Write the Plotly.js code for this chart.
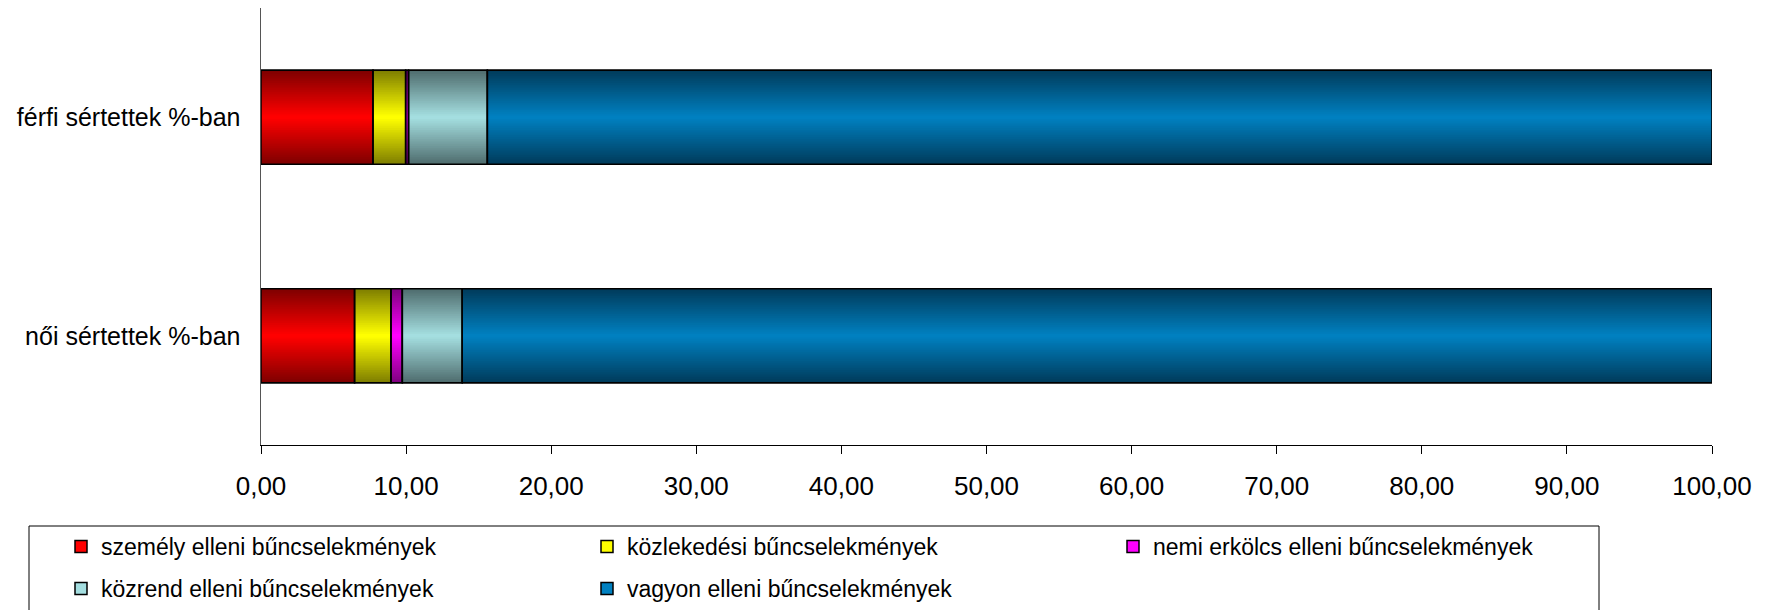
<!DOCTYPE html>
<html>
<head>
<meta charset="utf-8">
<script src="https://cdn.plot.ly/plotly-3.0.1.min.js"></script>
<style>html,body{margin:0;padding:0;background:#fff;}#chart{width:1765px;height:610px;}</style>
</head>
<body>
<div id="chart"></div>
<script>
// ---- data ----
const categories = ['női sértettek %-ban', 'férfi sértettek %-ban'];
const seriesNames = [
  'személy elleni bűncselekmények',
  'közlekedési bűncselekmények',
  'nemi erkölcs elleni bűncselekmények',
  'közrend elleni bűncselekmények',
  'vagyon elleni bűncselekmények'
];
// values per category [női, férfi]
const szemely = [6.45, 7.72];
const kozlekedesi = [2.51, 2.25];
const nemi = [0.78, 0.20];
const kozrend = [4.13, 5.43];
const vagyon = [86.13, 84.40];
const xTicks = [0, 10, 20, 30, 40, 50, 60, 70, 80, 90, 100];

// ---- styles ----
const edgeColors = [[128,0,0],[128,128,0],[128,0,128],[80,110,111],[0,60,92]];
const centerColors = [[255,0,0],[255,255,0],[255,0,255],[164,222,224],[0,128,192]];
const legendRow = ['legend', 'legend', 'legend', 'legend2', 'legend2'];
const barWidth = 0.43;
const steps = 26;

const seriesValues = [szemely, kozlekedesi, nemi, kozrend, vagyon];
const rgb = c => 'rgb(' + c.map(v => Math.round(v)).join(',') + ')';
const lerp = (a, b, t) => a.map((v, i) => v + (b[i] - v) * t);

// cumulative bases
const bases = [];
let run = categories.map(() => 0);
seriesValues.forEach(vals => {
  bases.push(run.slice());
  run = run.map((r, i) => r + vals[i]);
});

const traces = [];
seriesValues.forEach((vals, s) => {
  const common = {
    type: 'bar', orientation: 'h', y: categories, x: vals, base: bases[s],
    hoverinfo: 'skip', legend: legendRow[s]
  };
  // legend trace
  traces.push(Object.assign({}, common, {
    name: seriesNames[s], width: barWidth, showlegend: true,
    marker: {color: rgb(centerColors[s]), line: {color: '#000', width: 1.5}}
  }));
  // gradient layers
  for (let k = 0; k < steps; k++) {
    const t = k / (steps - 1);
    traces.push(Object.assign({}, common, {
      name: seriesNames[s], showlegend: false,
      width: barWidth * (1 - k / steps),
      marker: {color: rgb(lerp(edgeColors[s], centerColors[s], t)), line: {width: 0}}
    }));
  }
});
// outlines on top
seriesValues.forEach((vals, s) => {
  traces.push({
    type: 'bar', orientation: 'h', y: categories, x: vals, base: bases[s],
    hoverinfo: 'skip', name: seriesNames[s], showlegend: false, width: barWidth,
    marker: {color: 'rgba(0,0,0,0)', line: {color: '#000', width: 1.5}}
  });
});

const fontFam = 'Liberation Sans, Arial, Helvetica, sans-serif';
const plotL = 261, plotT = 8, plotW = 1451, plotH = 437;
const legendCommon = {
  orientation: 'h', xref: 'paper', yref: 'paper',
  x: (61 - plotL) / plotW, xanchor: 'left', yanchor: 'top',
  borderwidth: 0, bgcolor: 'rgba(0,0,0,0)',
  entrywidth: 481, entrywidthmode: 'pixels',
  font: {size: 23, family: fontFam, color: '#000'}, traceorder: 'normal'
};
const layout = {
  width: 1765, height: 610,
  margin: {l: plotL, r: 1765 - plotL - plotW, t: plotT, b: 610 - plotT - plotH, pad: 0, autoexpand: false},
  paper_bgcolor: '#fff', plot_bgcolor: '#fff',
  barmode: 'overlay',
  separators: ', ',
  font: {family: fontFam, size: 23, color: '#000'},
  xaxis: {
    range: [0, 100], tickvals: xTicks, tickformat: '.2f',
    showgrid: false, zeroline: false,
    showline: true, linecolor: '#000', linewidth: 1,
    ticks: 'outside', ticklen: 8, tickcolor: '#000', tickwidth: 1,
    ticklabelstandoff: 10,
    tickfont: {size: 26}, fixedrange: true
  },
  yaxis: {
    type: 'category', categoryorder: 'array', categoryarray: categories,
    range: [-0.5, 1.5], showgrid: false, zeroline: false,
    showline: true, linecolor: '#555', linewidth: 1.5,
    ticks: '', ticklabelstandoff: 14, tickfont: {size: 25}, fixedrange: true
  },
  showlegend: true,
  legend: Object.assign({}, legendCommon, {y: (plotT + plotH - 525) / plotH}),
  legend2: Object.assign({}, legendCommon, {y: (plotT + plotH - 567) / plotH}),
  shapes: [{
    type: 'rect', xref: 'paper', yref: 'paper',
    x0: (29 - plotL) / plotW, x1: (1599 - plotL) / plotW,
    y0: (plotT + plotH - 526) / plotH, y1: (plotT + plotH - 640) / plotH,
    line: {color: '#000', width: 1}, fillcolor: 'rgba(0,0,0,0)', layer: 'below'
  }]
};

Plotly.newPlot('chart', traces, layout, {staticPlot: true, displayModeBar: false});
</script>
</body>
</html>
